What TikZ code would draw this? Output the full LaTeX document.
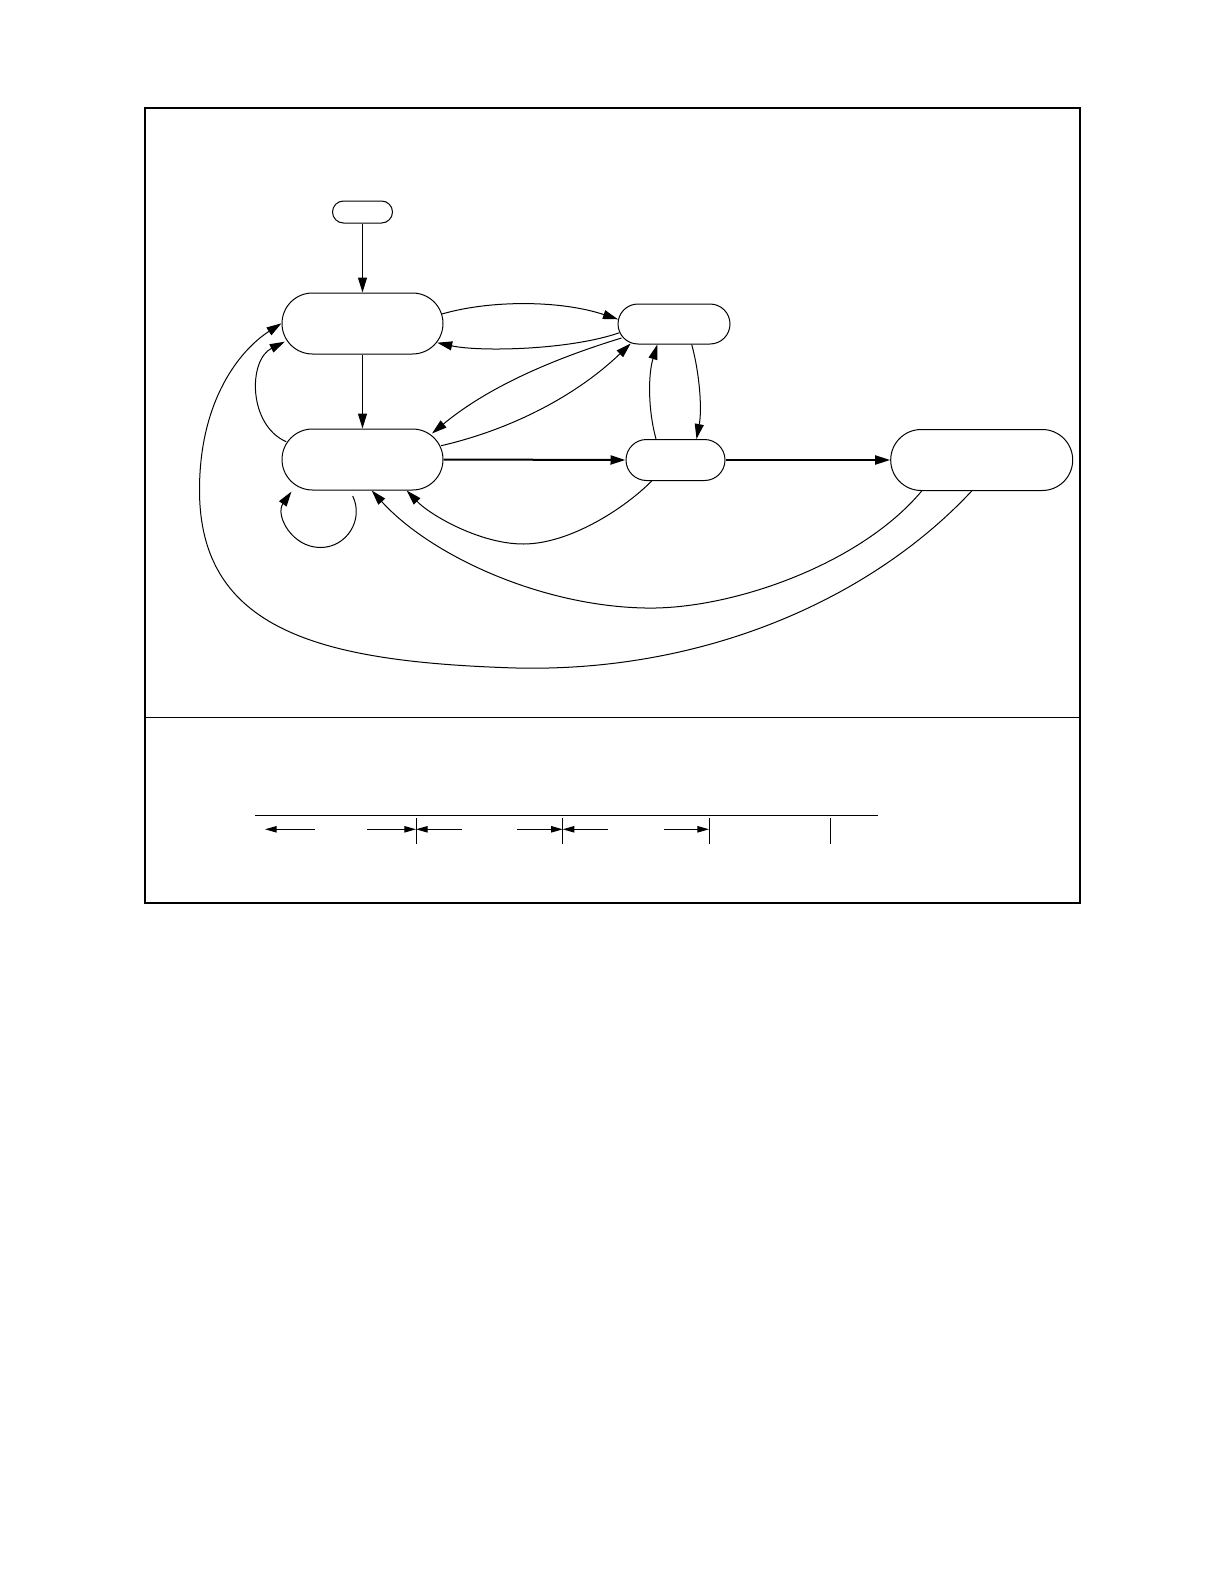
\documentclass[tikz,border=0pt]{standalone}
\usetikzlibrary{arrows.meta,calc}
\begin{document}
\begin{tikzpicture}[x=0.5pt,y=-0.5pt,
  state/.style={draw,line width=0.5pt,inner sep=0pt},
  edge/.style={line width=0.5pt,-{Triangle[length=7.5pt,width=4.5pt]}},
  thickedge/.style={line width=1pt,-{Triangle[length=7.5pt,width=4.5pt]}},
  legarrow/.style={line width=0.5pt,-{Triangle[length=5.8pt,width=3.2pt]}},
  frameline/.style={line width=0.7pt}]
\useasboundingbox (0,0) rectangle (1224,1584);
% frame
\draw[frameline] (145,108) rectangle (1080,903);
\draw[frameline] (145,717.3) -- (1080,717.3);
% states
\node[state,minimum width=30pt,minimum height=11pt,rounded corners=5.5pt] (S) at (362.5,212) {};
\node[state,minimum width=80.5pt,minimum height=30.5pt,rounded corners=15.25pt] (A) at (362.5,323.5) {};
\node[state,minimum width=56pt,minimum height=20pt,rounded corners=10pt] (B) at (674,324) {};
\node[state,minimum width=80.5pt,minimum height=30.5pt,rounded corners=15.25pt] (C) at (362.5,459.5) {};
\node[state,minimum width=49.5pt,minimum height=20.5pt,rounded corners=10.25pt] (D) at (675.5,460) {};
\node[state,minimum width=91pt,minimum height=30.5pt,rounded corners=15.25pt] (E) at (981.7,460) {};
% edges
\draw[edge] (S.south) -- (A.north);
\draw[edge] (A.south) -- (C.north);
\draw[edge] ($(A.east)+(-1.5,-9.5)$) .. controls (490,300) and (560,300) .. ($(B.west)+(0.5,-4.7)$);
\draw[edge] ($(B.west)+(2,8.7)$) .. controls (570,350) and (480,352) .. ($(A.east)+(-6.3,19.2)$);
\draw[edge] ($(B.west)+(4,14)$) .. controls (553,359) and (488,387) .. ($(C.east)+(-11.5,-26)$);
\draw[edge] ($(C.east)+(-2.3,-13.8)$) .. controls (513,429) and (577,395) .. ($(B.south)+(-43.3,-1)$);
\draw[edge] ($(B.south)+(17.7,0)$) .. controls (700,375) and (702,410) .. ($(D.north)+(21,0)$);
\draw[edge] ($(D.north)+(-19.5,0)$) .. controls (648,410) and (648,375) .. ($(B.south)+(-16.7,0)$);
\draw[edge] ($(C.west)+(4.7,-17.8)$) .. controls (248,425) and (248,360) .. ($(A.west)+(3.3,18.2)$);
\draw[thickedge] (C.east) -- (D.west);
\draw[thickedge] (D.east) -- (E.west);
% self loop on C
\draw[edge] ($(C.south)+(-9.8,5.5)$) .. controls (364.2,519.6) and (346.7,547.5) .. (320.5,547.5)
  .. controls (291.8,547.5) and (274.9,515.1) .. ($(C.south)+(-71.1,1.1)$);
% D -> C
\draw[edge] ($(D.south)+(-23.8,0)$) .. controls (625,508) and (570,544) .. (523.3,544)
  .. controls (480,544) and (430,515) .. ($(C.south)+(44.2,0)$);
% E -> C
\draw[edge] ($(E.south)+(-60,0)$) .. controls (860,565) and (730,610) .. (645,608)
  .. controls (540,606) and (430,555) .. ($(C.south)+(9.2,0)$);
% E -> A
\draw[edge] ($(E.south)+(-10,0)$) .. controls (870,600) and (700,675) .. (506.7,667.7)
  .. controls (320,661) and (199.5,630) .. (199.5,490)
  .. controls (199.5,400) and (240,350) .. ($(A.west)+(0,-0.2)$);
% legend
\draw[line width=0.5pt] (255,815) -- (878,815);
\foreach \x in {416,562.7,709,830} \draw[line width=0.5pt] (\x,818) -- (\x,844);
\draw[legarrow] (315,829.3) -- (265,829.3);
\draw[legarrow] (367,829.3) -- (416,829.3);
\draw[legarrow] (462,829.3) -- (416,829.3);
\draw[legarrow] (517,829.3) -- (562.7,829.3);
\draw[legarrow] (607.7,829.3) -- (562.7,829.3);
\draw[legarrow] (664,829.3) -- (709,829.3);
\end{tikzpicture}
\end{document}
